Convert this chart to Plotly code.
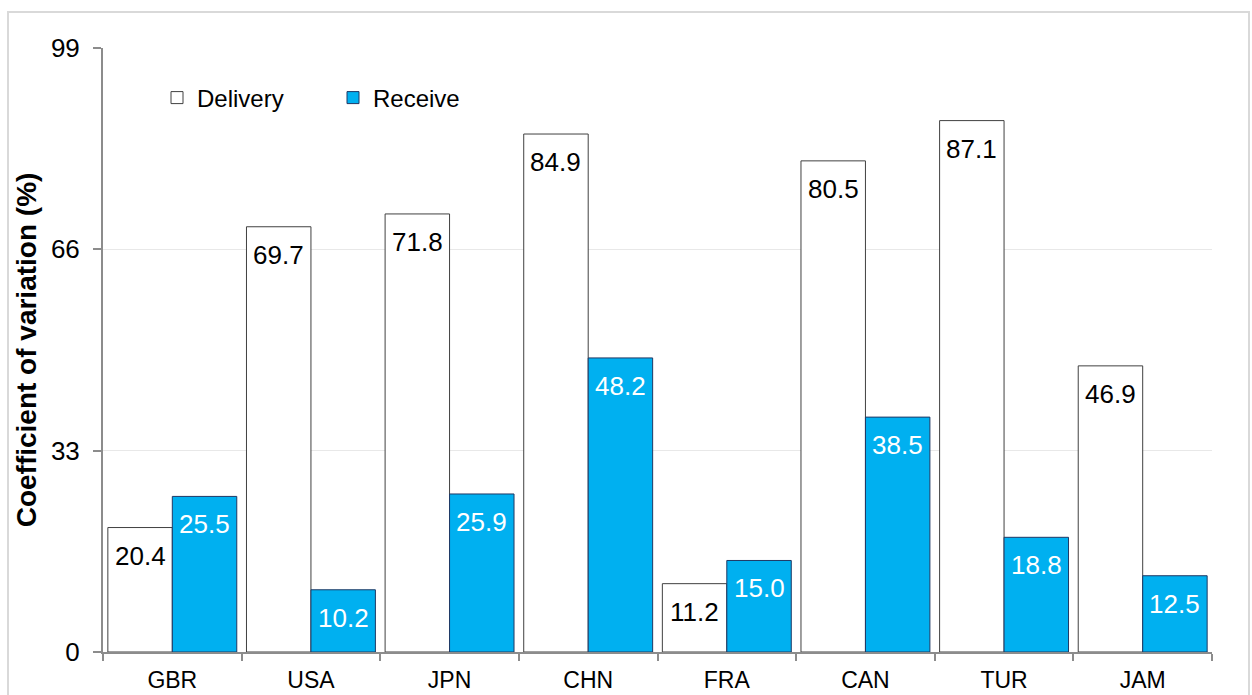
import plotly.graph_objects as go

categories = ["GBR", "USA", "JPN", "CHN", "FRA", "CAN", "TUR", "JAM"]
delivery = [20.4, 69.7, 71.8, 84.9, 11.2, 80.5, 87.1, 46.9]
receive = [25.5, 10.2, 25.9, 48.2, 15.0, 38.5, 18.8, 12.5]
y_ticks = [0, 33, 66, 99]

FONT = "Liberation Sans, Arial, sans-serif"

W, H = 1252, 695
L, R, T, B = 103, 40, 48, 43
pw, ph = W - L - R, H - T - B
BARGAP = 0.07

def px(x):
    return (x - L) / pw

def py(y):
    return (H - B - y) / ph

fig = go.Figure()
fig.add_trace(go.Bar(
    x=categories, y=delivery, name="Delivery",
    marker=dict(color="white", line=dict(color="#404040", width=1)),
))
fig.add_trace(go.Bar(
    x=categories, y=receive, name="Receive",
    marker=dict(color="#00B0F0", line=dict(color="#1F3864", width=1)),
))

# value labels placed inside the top of each bar
cat_px = pw / len(categories)
bar_px = cat_px * (1 - BARGAP) / 2
annotations = []
for series, color, sign in ((delivery, "black", -1), (receive, "white", 1)):
    for c, v in zip(categories, series):
        annotations.append(dict(
            x=c, y=v, xref="x", yref="y", text=f"{v:.1f}", showarrow=False,
            xanchor="center", yanchor="middle", xshift=sign * bar_px / 2, yshift=-28,
            font=dict(size=26, color=color, family=FONT),
        ))

fig.update_layout(
    width=W, height=H,
    margin=dict(l=L, r=R, t=T, b=B, autoexpand=False),
    paper_bgcolor="white", plot_bgcolor="white",
    font=dict(family=FONT, size=23, color="black"),
    barmode="group", bargap=BARGAP, bargroupgap=0,
    showlegend=True,
    legend=dict(orientation="h", x=px(157), xanchor="left", y=py(98), yanchor="middle",
                font=dict(size=24, family=FONT), bgcolor="rgba(0,0,0,0)",
                itemwidth=30, entrywidth=131, traceorder="normal"),
    xaxis=dict(
        type="category", showline=True, linecolor="#8C8C8C", linewidth=2, automargin=False,
        ticks="outside", tickson="boundaries", ticklen=7, tickcolor="#8C8C8C", tickwidth=2,
        tickfont=dict(size=23, family=FONT), showgrid=False, ticklabelstandoff=6,
    ),
    yaxis=dict(
        range=[0, 99], tickvals=y_ticks, ticktext=[str(t) for t in y_ticks],
        showline=True, linecolor="#8C8C8C", linewidth=2, automargin=False,
        ticks="outside", ticklen=8, tickcolor="#8C8C8C", tickwidth=2,
        showgrid=True, gridcolor="#E8E8E8", gridwidth=1, zeroline=False,
        tickfont=dict(size=26, family=FONT), ticklabelstandoff=8,
        title=dict(text="<b>Coefficient of variation (%)</b>", font=dict(size=28, family=FONT), standoff=6),
    ),
    annotations=annotations,
    shapes=[dict(type="rect", xref="paper", yref="paper",
                 x0=px(8), x1=px(1249), y0=py(720), y1=py(12),
                 line=dict(color="#D9D9D9", width=2), fillcolor="rgba(0,0,0,0)", layer="below")],
)

fig.write_html("out.html", config={"displayModeBar": False},
               post_script="document.body.style.margin='0';document.body.style.overflow='hidden';")
